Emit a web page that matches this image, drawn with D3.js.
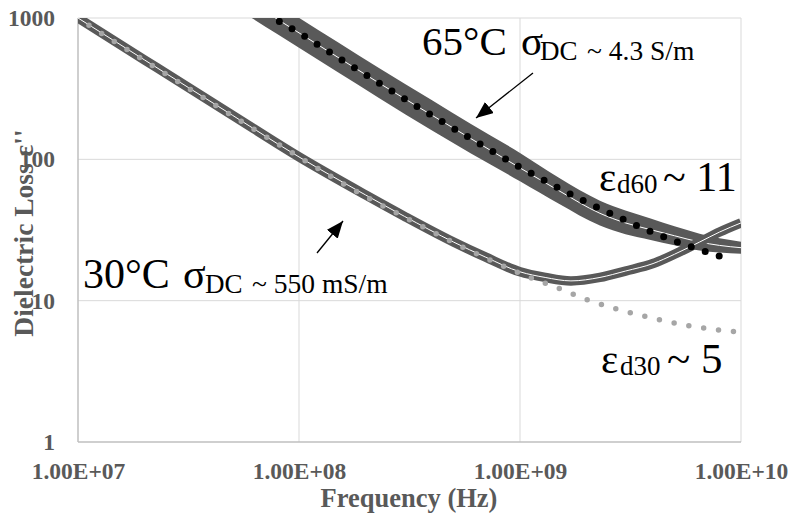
<!DOCTYPE html>
<html>
<head>
<meta charset="utf-8">
<script src="https://cdn.jsdelivr.net/npm/d3@7"></script>
<style>
  html, body { margin: 0; padding: 0; background: #fff; }
  svg { display: block; font-family: "Times New Roman", "Liberation Serif", serif; }
</style>
</head>
<body>
<div id="chart"></div>
<script>
// 30 °C measured loss (centre of the band) and its fit
const freq30 = [1e7, 2e7, 5e7, 1e8, 2e8, 3e8, 5e8, 7e8, 1e9, 1.3e9, 1.7e9, 2.3e9, 3e9, 4e9, 5e9, 6.5e9, 8e9, 1e10];
const loss30 = [1000, 505, 205, 104, 56, 39.5, 26, 20.3, 16, 14.6, 13.8, 14.6, 16.2, 18.3, 21.3, 26, 30.6, 35.5];
const fitFreq30 = [1e7, 2e7, 5e7, 1e8, 2e8, 3e8, 5e8, 7e8, 1e9, 1.5e9, 2e9, 3e9, 4e9, 6e9, 8e9, 1e10];
const fit30 = [994, 500, 203, 104, 54.5, 39, 25.8, 20, 15.6, 12.2, 10.2, 8.4, 7.5, 6.6, 6.2, 6.0];

// 65 °C measured loss: band edges, centre and fit
const freq65 = [6e7, 8e7, 1e8, 1.5e8, 2.3e8, 4e8, 6e8, 1e9, 1.5e9, 2.3e9, 3e9, 3.9e9, 5e9, 6.5e9, 8e9, 1e10];
const mid65 = [1300, 978, 785, 527, 347, 205, 140, 87, 60, 41.5, 35.5, 31.8, 28.8, 26, 24.6, 23.7];
const hi65 = [1660, 1250, 1003, 673, 443, 262, 178, 111, 74, 51, 43.5, 38.2, 33.6, 29.8, 27.6, 26.1];
const lo65 = [1018, 766, 615, 413, 272, 160, 110, 70, 48.5, 34, 29.5, 26.9, 24.7, 22.6, 21.9, 21.5];
const fitFreq65 = [8.15e7, 1e8, 1.5e8, 2.3e8, 4e8, 6e8, 1e9, 1.5e9, 2e9, 3e9, 3.6e9, 5e9, 6.5e9, 8e9, 9.2e9];
const fit65 = [945, 784, 526, 347, 204, 140, 88, 62.5, 49.7, 37, 32.5, 26.5, 23, 20.7, 19.4];

const xTicks = [1e7, 1e8, 1e9, 1e10];
const yTicks = [1, 10, 100, 1000];

const width = 791;
const height = 518;
const plotLeft = 78, plotRight = 741, plotTop = 18, plotBottom = 442;

const grey = "#595959";

const x = d3.scaleLog().domain([1e7, 1e10]).range([plotLeft, plotRight]);
const y = d3.scaleLog().domain([1, 1000]).range([plotBottom, plotTop]);

const svg = d3.select("#chart")
  .append("svg")
  .attr("width", width)
  .attr("height", height)
  .attr("viewBox", [0, 0, width, height]);

const defs = svg.append("defs");
defs.append("clipPath")
  .attr("id", "plot")
  .append("rect")
  .attr("x", plotLeft)
  .attr("y", plotTop)
  .attr("width", plotRight - plotLeft)
  .attr("height", plotBottom - plotTop);

const arrowHead = defs
  .append("marker")
  .attr("id", "head")
  .attr("markerUnits", "userSpaceOnUse")
  .attr("markerWidth", 18)
  .attr("markerHeight", 14)
  .attr("refX", 17)
  .attr("refY", 7)
  .attr("orient", "auto");
arrowHead.append("path").attr("d", "M0,0L17,7L0,14Z").attr("fill", "#000");

// grid
svg.append("g")
  .selectAll("line")
  .data(xTicks.slice(1))
  .join("line")
  .attr("x1", (d) => x(d))
  .attr("x2", (d) => x(d))
  .attr("y1", plotTop)
  .attr("y2", plotBottom)
  .attr("stroke", "#d9d9d9");
svg.append("g")
  .selectAll("line")
  .data(yTicks.slice(1))
  .join("line")
  .attr("x1", plotLeft)
  .attr("x2", plotRight)
  .attr("y1", (d) => y(d))
  .attr("y2", (d) => y(d))
  .attr("stroke", "#d9d9d9");

// axes
const yAxis = svg.append("g")
  .attr("transform", `translate(${plotLeft},0)`)
  .call(d3.axisLeft(y).tickValues(yTicks).tickFormat(d3.format("d")).tickSize(0).tickPadding(23));
const xAxis = svg.append("g")
  .attr("transform", `translate(0,${plotBottom})`)
  .call(
    d3.axisBottom(x)
      .tickValues(xTicks)
      .tickFormat((d) => "1.00E+" + d3.format("02d")(Math.round(Math.log10(d))))
      .tickSize(0)
      .tickPadding(20)
  );
[yAxis, xAxis].forEach((g) => {
  g.select(".domain").remove();
  g.selectAll("text")
    .attr("fill", grey)
    .attr("font-family", "'Times New Roman', 'Liberation Serif', serif")
    .attr("font-weight", "bold")
    .attr("font-size", 23.5);
});
svg.append("line")
  .attr("x1", plotLeft).attr("x2", plotLeft)
  .attr("y1", plotTop).attr("y2", plotBottom)
  .attr("stroke", "#bfbfbf").attr("stroke-width", 1.5);
svg.append("line")
  .attr("x1", plotLeft).attr("x2", plotRight)
  .attr("y1", plotBottom).attr("y2", plotBottom)
  .attr("stroke", "#bfbfbf").attr("stroke-width", 1.5);

// series
const plot = svg.append("g").attr("clip-path", "url(#plot)");

const line = d3.line()
  .x((d) => x(d[0]))
  .y((d) => y(d[1]))
  .curve(d3.curveMonotoneX);
const band = d3.area()
  .x((d) => x(d[0]))
  .y0((d) => y(d[2]))
  .y1((d) => y(d[1]))
  .curve(d3.curveMonotoneX);

const band65 = d3.zip(freq65, hi65, lo65);
const mid65Pts = d3.zip(freq65, mid65);
const loss30Pts = d3.zip(freq30, loss30);

plot.append("path").attr("d", band(band65)).attr("fill", grey);
plot.append("path").attr("d", line(mid65Pts))
  .attr("fill", "none").attr("stroke", "#fff").attr("stroke-width", 1);

plot.append("path").attr("d", line(loss30Pts))
  .attr("fill", "none").attr("stroke", grey).attr("stroke-width", 9.5);
plot.append("path").attr("d", line(loss30Pts))
  .attr("fill", "none").attr("stroke", "#fff").attr("stroke-width", 1);

plot.append("path").attr("d", line(d3.zip(fitFreq30, fit30)))
  .attr("fill", "none")
  .attr("stroke", "#a6a6a6")
  .attr("stroke-width", 5.5)
  .attr("stroke-linecap", "round")
  .attr("stroke-dasharray", "0 15")
  .attr("stroke-dashoffset", 2);
plot.append("path").attr("d", line(d3.zip(fitFreq65, fit65)))
  .attr("fill", "none")
  .attr("stroke", "#000")
  .attr("stroke-width", 7)
  .attr("stroke-linecap", "round")
  .attr("stroke-dasharray", "0 14.7");

// axis titles
svg.append("text")
  .attr("x", 409)
  .attr("y", 507)
  .attr("text-anchor", "middle")
  .attr("font-weight", "bold")
  .attr("font-size", 26.5)
  .attr("fill", grey)
  .text("Frequency (Hz)");
svg.append("text")
  .attr("transform", "translate(33,233) rotate(-90)")
  .attr("text-anchor", "middle")
  .attr("font-weight", "bold")
  .attr("font-size", 27.5)
  .attr("fill", grey)
  .text("Dielectric Loss ε''");

// annotations
function label(parts) {
  const t = svg.append("text").attr("fill", "#000");
  parts.forEach((p) => {
    t.append("tspan")
      .attr("x", p.x)
      .attr("y", p.y)
      .attr("font-size", p.size)
      .text(p.text);
  });
}

label([
  { text: "65°C", x: 422, y: 55, size: 41 },
  { text: "σ", x: 521, y: 55, size: 41 },
  { text: "DC", x: 540, y: 60, size: 27 },
  { text: "~ 4.3 S/m", x: 587, y: 60, size: 27.5 },
]);
label([
  { text: "ε", x: 599, y: 191, size: 41 },
  { text: "d60", x: 617, y: 193, size: 27 },
  { text: "~ 11", x: 663, y: 191, size: 42 },
]);
label([
  { text: "ε", x: 601, y: 373, size: 41 },
  { text: "d30", x: 620, y: 375, size: 27 },
  { text: "~ 5", x: 667, y: 373, size: 43 },
]);
label([
  { text: "30°C", x: 83, y: 288, size: 42 },
  { text: "σ", x: 183, y: 288, size: 42 },
  { text: "DC", x: 205, y: 293, size: 27 },
  { text: "~ 550 mS/m", x: 252, y: 293, size: 27.5 },
]);

// arrows
svg.append("line")
  .attr("x1", 533).attr("y1", 73)
  .attr("x2", 476).attr("y2", 118)
  .attr("stroke", "#000").attr("stroke-width", 1.3)
  .attr("marker-end", "url(#head)");
svg.append("line")
  .attr("x1", 317).attr("y1", 253)
  .attr("x2", 343).attr("y2", 221)
  .attr("stroke", "#000").attr("stroke-width", 1.3)
  .attr("marker-end", "url(#head)");
</script>
</body>
</html>
